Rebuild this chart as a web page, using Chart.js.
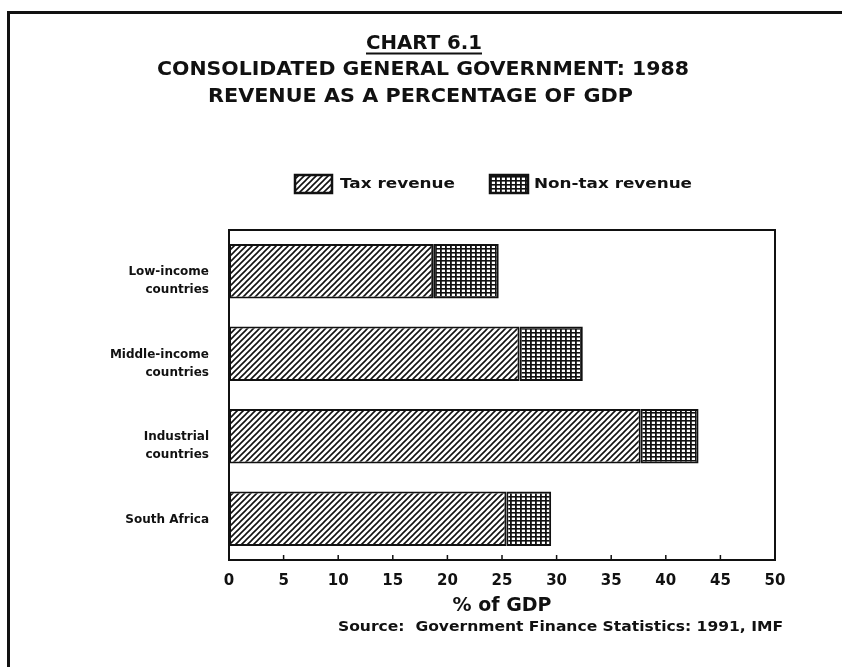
<!DOCTYPE html>
<html>
<head>
<meta charset="utf-8">
<script src="https://cdn.jsdelivr.net/npm/chart.js@4/dist/chart.umd.min.js"></script>
<style>
  html, body { margin: 0; padding: 0; background: #ffffff; }
  #wrap { position: relative; width: 842px; height: 667px; }
  canvas { display: block; }
</style>
</head>
<body>
<div id="wrap"><canvas id="c" width="842" height="667"></canvas></div>
<script>
// ---- data ----
const categories = [["Low-income", "countries"], ["Middle-income", "countries"], ["Industrial", "countries"], ["South Africa"]];
const taxRevenue = [18.7, 26.6, 37.7, 25.4];
const nonTaxRevenue = [6.0, 5.8, 5.3, 4.1];
const seriesNames = ["Tax revenue", "Non-tax revenue"];
const xMin = 0, xMax = 50, xStep = 5;
const titleLines = ["CHART 6.1", "CONSOLIDATED GENERAL GOVERNMENT: 1988", "REVENUE AS A PERCENTAGE OF GDP"];
const xAxisTitle = "% of GDP";
const sourceText = "Source:  Government Finance Statistics: 1991, IMF";

const FONT = '"DejaVu Sans", "Liberation Sans", Arial, sans-serif';
const INK = '#111111';

function makeHatch() {
  const c = document.createElement('canvas');
  c.width = 6; c.height = 6;
  const g = c.getContext('2d');
  g.fillStyle = '#ffffff'; g.fillRect(0, 0, 6, 6);
  g.strokeStyle = INK; g.lineWidth = 1.6;
  g.beginPath();
  g.moveTo(-1, 7); g.lineTo(7, -1);
  g.moveTo(-1, 1); g.lineTo(1, -1);
  g.moveTo(5, 7); g.lineTo(7, 5);
  g.stroke();
  return g.createPattern(c, 'repeat');
}
function makeGrid() {
  const c = document.createElement('canvas');
  c.width = 5; c.height = 4;
  const g = c.getContext('2d');
  g.fillStyle = '#ffffff'; g.fillRect(0, 0, 5, 4);
  g.fillStyle = INK;
  g.fillRect(0, 0, 5, 1.6);
  g.fillRect(0, 0, 1.8, 4);
  return g.createPattern(c, 'repeat');
}
const hatch = makeHatch();
const grid = makeGrid();

// draw text stretched horizontally to a given width (the scanned lettering is very wide)
function stretchText(ctx, text, left, y, width) {
  ctx.save();
  const w0 = ctx.measureText(text).width;
  ctx.translate(left, y);
  ctx.scale(width / w0, 1);
  ctx.textAlign = 'left';
  ctx.fillText(text, 0, 0);
  ctx.restore();
}

const decor = {
  id: 'decor',
  beforeDraw(chart) {
    const ctx = chart.ctx;
    ctx.save();
    ctx.fillStyle = '#ffffff';
    ctx.fillRect(0, 0, chart.width, chart.height);
    // scanned page frame
    ctx.fillStyle = INK;
    ctx.fillRect(7, 11, 842, 3);
    ctx.fillRect(7, 11, 3, 667);
    ctx.restore();
  },
  afterDraw(chart) {
    const ctx = chart.ctx;
    const a = chart.chartArea;
    const xs = chart.scales.x;
    ctx.save();
    // plot frame
    ctx.strokeStyle = INK; ctx.lineWidth = 2;
    ctx.strokeRect(a.left, a.top, a.right - a.left, a.bottom - a.top);
    // small inward ticks on the value axis
    ctx.lineWidth = 1.5;
    xs.ticks.forEach(t => {
      const px = xs.getPixelForValue(t.value);
      ctx.beginPath(); ctx.moveTo(px, a.bottom); ctx.lineTo(px, a.bottom - 5); ctx.stroke();
    });
    // titles
    ctx.fillStyle = INK;
    ctx.textBaseline = 'middle';
    ctx.font = 'bold 19px ' + FONT;
    stretchText(ctx, titleLines[0], 366, 44, 116);
    ctx.fillRect(366, 52.5, 116, 2);
    stretchText(ctx, titleLines[1], 157, 70.5, 532);
    stretchText(ctx, titleLines[2], 208, 97.5, 425);
    // legend
    const ly = 184;
    const items = [
      { fill: hatch, x: 295, w: 37, tx: 340, tw: 115, text: seriesNames[0] },
      { fill: grid, x: 490, w: 38, tx: 534, tw: 158, text: seriesNames[1] }
    ];
    ctx.font = 'bold 14px ' + FONT;
    items.forEach(it => {
      ctx.fillStyle = it.fill;
      ctx.fillRect(it.x, ly - 9, it.w, 18);
      ctx.strokeStyle = INK; ctx.lineWidth = 2.5;
      ctx.strokeRect(it.x, ly - 9, it.w, 18);
      ctx.fillStyle = INK;
      stretchText(ctx, it.text, it.tx, ly, it.tw);
    });
    // source
    ctx.font = 'bold 14px ' + FONT;
    stretchText(ctx, sourceText, 338, 627, 445);
    ctx.restore();
  }
};

new Chart(document.getElementById('c'), {
  type: 'bar',
  data: {
    labels: categories,
    datasets: [
      { label: seriesNames[0], data: taxRevenue, backgroundColor: hatch, borderColor: INK, borderWidth: 2, borderSkipped: false },
      { label: seriesNames[1], data: nonTaxRevenue, backgroundColor: grid, borderColor: INK, borderWidth: 2, borderSkipped: false }
    ]
  },
  options: {
    indexAxis: 'y',
    responsive: false,
    animation: false,
    devicePixelRatio: 1,
    layout: { padding: { top: 230, right: 67, bottom: 50, left: 0 } },
    datasets: { bar: { categoryPercentage: 1, barPercentage: 0.66 } },
    plugins: { legend: { display: false }, title: { display: false }, tooltip: { enabled: false } },
    scales: {
      x: {
        stacked: true, min: xMin, max: xMax,
        ticks: { stepSize: xStep, color: INK, padding: 12, font: { family: FONT, size: 15, weight: 'bold' }, maxRotation: 0 },
        grid: { display: false, drawTicks: false },
        border: { display: true, color: INK, width: 2 },
        title: { display: true, text: xAxisTitle, color: INK, font: { family: FONT, size: 19, weight: 'bold' }, padding: { top: 2, bottom: 0 } },
        afterFit(s) { s.height = 57; }
      },
      y: {
        stacked: true,
        ticks: {
          color: INK, padding: 20, labelOffset: 10,
          font: { family: FONT, size: 12, weight: 'bold', lineHeight: 1.5 },
          callback(value, index) {
            const lines = categories[index];
            return lines.length > 1 ? lines : [lines[0], ''];
          }
        },
        grid: { display: false, drawTicks: false },
        border: { display: true, color: INK, width: 2 },
        afterFit(s) { s.width = 229; }
      }
    }
  },
  plugins: [decor]
});
</script>
</body>
</html>
